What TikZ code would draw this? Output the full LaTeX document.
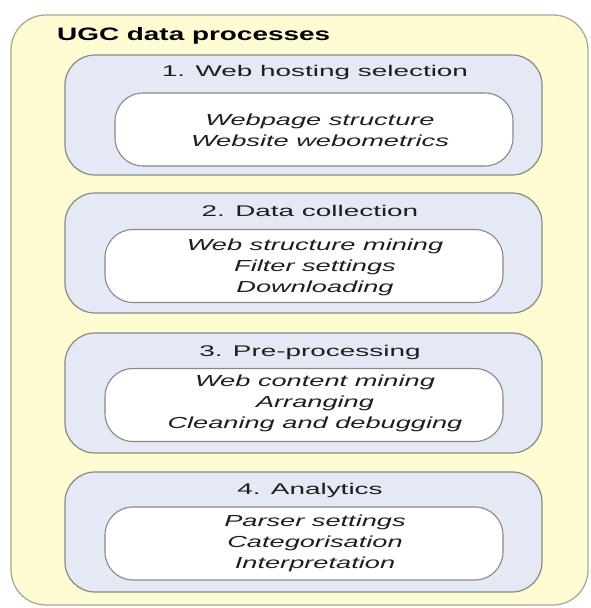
\documentclass[tikz,border=0pt]{standalone}
\usepackage{fontspec}
\setmainfont{Liberation Sans}
% wide sans faces for the three text levels
\newfontfamily\titlefam[FakeStretch=1.55]{Liberation Sans}
\newfontfamily\headfam[FakeStretch=1.8]{Liberation Sans}
\newfontfamily\itemfam[FakeStretch=1.7]{Liberation Sans}

\definecolor{panelfill}{RGB}{255,251,210}
\definecolor{panelline}{RGB}{170,170,150}
\definecolor{stagefill}{RGB}{228,233,245}
\definecolor{boxline}{RGB}{135,138,130}
\definecolor{inktext}{RGB}{30,30,30}

\tikzset{
  panel/.style={draw=panelline, fill=panelfill, line width=1.3pt, rounded corners=35pt,
    minimum width=577pt, minimum height=590pt, inner sep=0pt},
  stagebox/.style={draw=boxline, fill=stagefill, line width=1.2pt, rounded corners=30pt,
    minimum width=477pt, minimum height=120pt, inner sep=0pt},
  detailbox/.style={draw=boxline, fill=white, line width=1.1pt, rounded corners=28pt,
    minimum width=398pt, minimum height=73pt, inner sep=0pt},
  titletext/.style={anchor=base west, inner sep=0pt, text=black,
    font=\titlefam\bfseries\fontsize{18}{21}\selectfont},
  headtext/.style={anchor=base, inner sep=0pt, text=inktext,
    font=\headfam\fontsize{15.5}{19}\selectfont},
  itemtext/.style={anchor=center, inner sep=0pt, align=center, text=inktext,
    font=\itemfam\itshape\fontsize{16}{21}\selectfont},
}

\begin{document}
\begin{tikzpicture}[x=1pt, y=1pt]
\useasboundingbox (0,0) rectangle (590,608);

% outer container
\node[panel] (panel) at (299.5,298) {};
\node[titletext] (title) at (57,567) {UGC data processes};

% stage 1
\node[stagebox] (s1) at (303.5,493) {};
\node[headtext] (h1) at (315,531) {1. Web hosting selection};
\node[detailbox] (d1) at (314,478.5) {};
\node[itemtext] (t1) at (320,478) {Webpage structure\\Website webometrics};

% stage 2
\node[stagebox] (s2) at (303.5,355) {};
\node[headtext] (h2) at (310,391) {2. Data collection};
\node[detailbox] (d2) at (304,342) {};
\node[itemtext] (t2) at (315,340.5) {Web structure mining\\Filter settings\\Downloading};

% stage 3
\node[stagebox] (s3) at (303.5,215) {};
\node[headtext] (h3) at (310,251) {3. Pre-processing};
\node[detailbox] (d3) at (304,203) {};
\node[itemtext] (t3) at (315,205) {Web content mining\\Arranging\\Cleaning and debugging};

% stage 4
\node[stagebox] (s4) at (303.5,76) {};
\node[headtext] (h4) at (310,113) {4. Analytics};
\node[detailbox] (d4) at (304,64.5) {};
\node[itemtext] (t4) at (315,65) {Parser settings\\Categorisation\\Interpretation};
\end{tikzpicture}
\end{document}
